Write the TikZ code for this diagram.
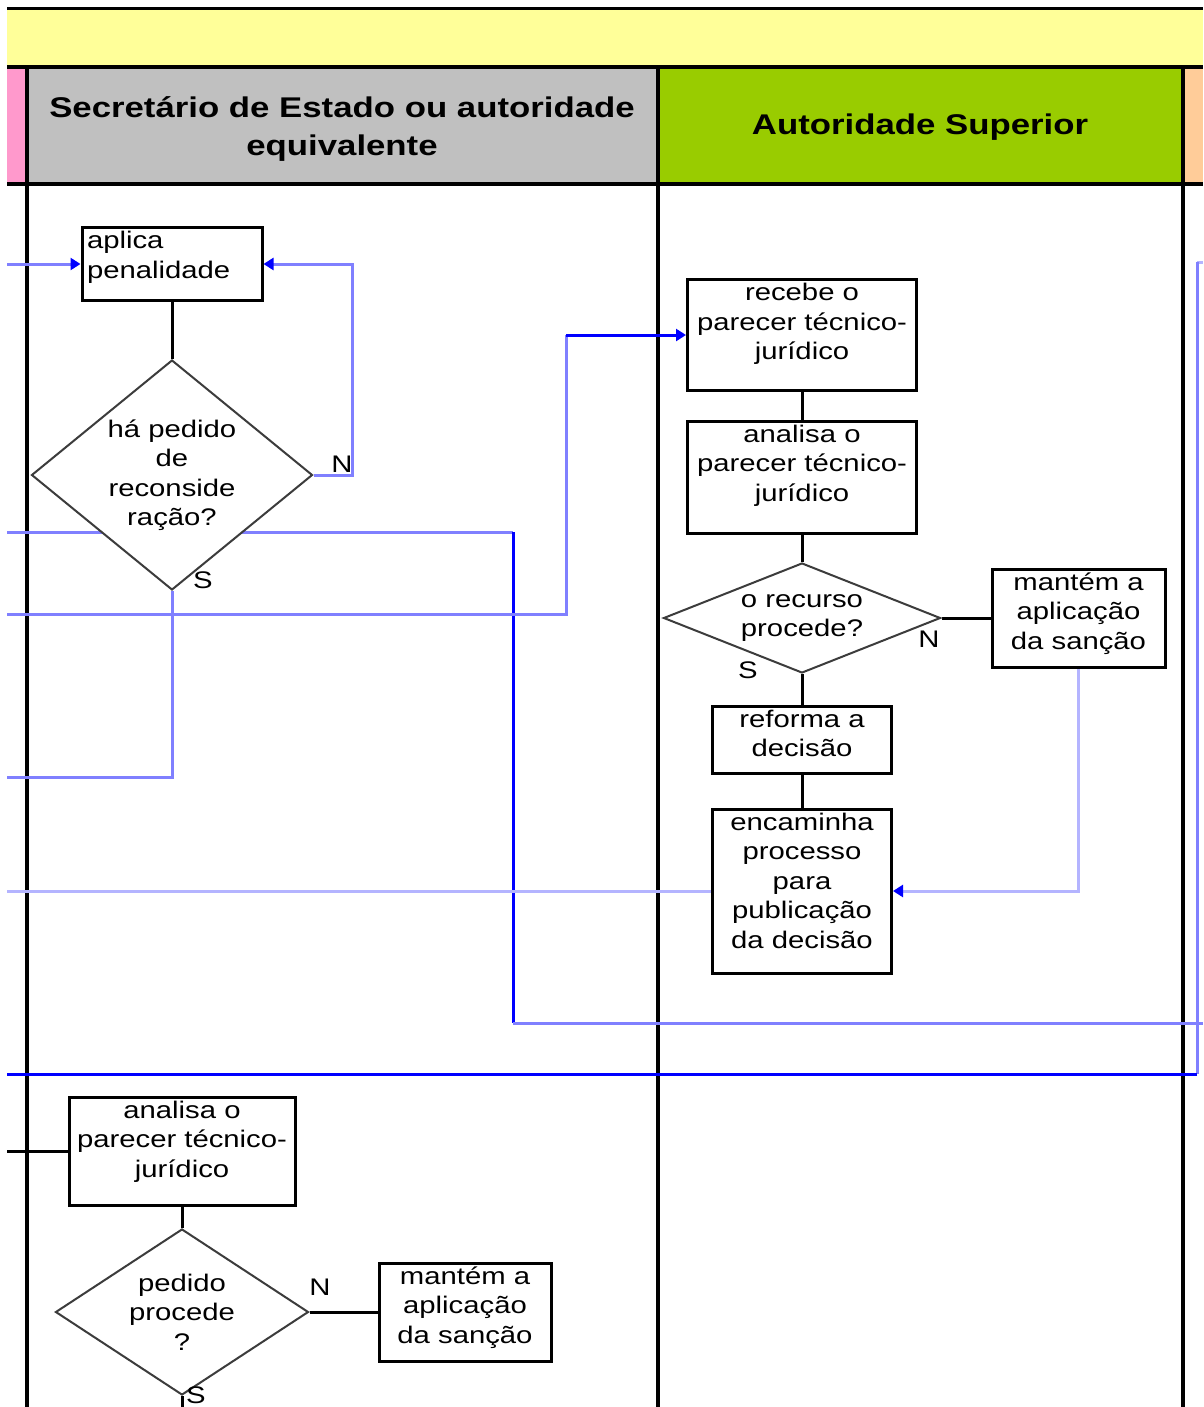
\documentclass[tikz,border=0pt]{standalone}
\usepackage{fontspec}
\setmainfont[FakeStretch=1.22]{Liberation Sans}
\usetikzlibrary{shapes.geometric,arrows.meta}
\pgfdeclarelayer{bg}
\pgfsetlayers{bg,main}
\definecolor{laneyellow}{HTML}{FFFF99}
\definecolor{lanegray}{HTML}{C0C0C0}
\definecolor{lanegreen}{HTML}{99CC00}
\definecolor{lanepink}{HTML}{FF99CC}
\definecolor{lanepeach}{HTML}{FFCC99}
\definecolor{flowblue}{HTML}{0000FF}
\definecolor{softblue}{HTML}{8080FF}
\definecolor{paleblue}{HTML}{B4B4FF}
\definecolor{edgegray}{HTML}{3C3C3C}

% fixed-size box text: width, height, alignment, lines
\newcommand\boxtxt[4]{\parbox[c][#2][t]{#1}{#3\rule{0pt}{21pt}#4}}

\begin{document}
\begin{tikzpicture}[x=1pt,y=-1pt,
  txt/.style={font=\fontsize{24}{29.5}\selectfont},
  procbox/.style={draw=black,line width=3pt,fill=white,inner sep=0pt,txt},
  decbox/.style={diamond,draw=edgegray,line width=2pt,fill=white,inner sep=0pt},
  declabel/.style={txt,align=center},
  flag/.style={txt,inner sep=0pt},
  link/.style={line width=3pt,black},
  soft/.style={line width=3pt,softblue},
  pale/.style={line width=3pt,paleblue},
  strong/.style={line width=3pt,flowblue},
  tip/.style={-{Triangle[length=10pt,width=12pt,color=flowblue]}},
  lane/.style={line width=3.2pt,black},
  head/.style={font=\bfseries\fontsize{28.5}{38}\selectfont,align=center}
]
\useasboundingbox (0,0) rectangle (1203,1407);

% lane titles
\node[head] (hsec) at (342,129) {Secretário de Estado ou autoridade\\equivalente};
\node[head] (hsup) at (920,127) {Autoridade Superior};

% Secretário de Estado: first part
\node[procbox] (pen) at (172,264) {\boxtxt{180pt}{73pt}{\raggedright\leftskip=5pt}{aplica\\penalidade}};
\node[decbox,minimum width=281pt,minimum height=230pt,
      label={[declabel]center:{há pedido\\de\\reconside\\ração?}}] (d1) at (172,475) {};
\node[flag] (n1) at (342,464) {N};
\node[flag] (s1) at (203,580) {S};

% Autoridade Superior
\node[procbox] (rec) at (802,335) {\boxtxt{229pt}{111pt}{\centering}{recebe o\\parecer técnico-\\jurídico}};
\node[procbox] (ana) at (802,477) {\boxtxt{229pt}{112pt}{\centering}{analisa o\\parecer técnico-\\jurídico}};
\node[decbox,minimum width=277pt,minimum height=110pt,
      label={[declabel]center:{o recurso\\procede?}}] (d2) at (802,618) {};
\node[flag] (n2) at (929,639) {N};
\node[flag] (s2) at (748,670) {S};
\node[procbox] (mant) at (1078.5,618) {\boxtxt{173pt}{98pt}{\centering}{mantém a\\aplicação\\da sanção}};
\node[procbox] (ref) at (802,739.5) {\boxtxt{179pt}{67pt}{\centering}{reforma a\\decisão}};
\node[procbox] (enc) at (802,891) {\boxtxt{179pt}{164pt}{\centering}{encaminha\\processo\\para\\publicação\\da decisão}};

% Secretário de Estado: second part
\node[procbox] (ana2) at (182,1151) {\boxtxt{226pt}{108pt}{\centering}{analisa o\\parecer técnico-\\jurídico}};
\node[decbox,minimum width=253pt,minimum height=166pt,
      label={[declabel]center:{pedido\\procede\\?}}] (d3) at (182,1312) {};
\node[flag] (n3) at (320,1287) {N};
\node[flag] (s3) at (196,1395) {S};
\node[procbox] (mant2) at (465,1312) {\boxtxt{172pt}{98pt}{\centering}{mantém a\\aplicação\\da sanção}};

% free ends of the flow lines
\coordinate (inPen) at (7,264);
\coordinate (in532) at (7,532);
\coordinate (out1023) at (1203,1023);
\coordinate (in614) at (7,614);
\coordinate (outRej) at (7,777);
\coordinate (outEnc) at (7,891);
\coordinate (topR) at (1197,262);
\coordinate (stubR) at (1203,262);
\coordinate (outBand) at (7,1074);
\coordinate (in1152) at (7,1151);
\coordinate (downS) at (182,1407);

\begin{pgfonlayer}{bg}
  % pool header and lanes
  \fill[laneyellow] (7,9) rectangle (1203,67);
  \fill[lanepink] (7,67) rectangle (27,184);
  \fill[lanegray] (27,67) rectangle (658,184);
  \fill[lanegreen] (658,67) rectangle (1183,184);
  \fill[lanepeach] (1183,67) rectangle (1203,184);
  \draw[lane] (7,8.5) -- (1203,8.5);
  \draw[lane] (7,67) -- (1203,67);
  \draw[lane] (7,184) -- (1203,184);
  \draw[lane] (27,67) -- (27,1407);
  \draw[lane] (658,67) -- (658,1407);
  \draw[lane] (1183,67) -- (1183,1407);

  % blue flow lines
  \draw[soft,tip] (inPen) -- (pen.west);
  \draw[soft,tip] (d1.east) -| (352,264) -- (pen.east);
  \draw[soft] (d1.south) |- (outRej);
  \draw[soft] (in532) -- (513,532);
  \draw[strong] (513,532) -- (513,1023);
  \draw[soft] (513,1023) -- (out1023);
  \draw[soft] (in614) -| (566,335);
  \draw[strong,tip] (566,335) -- (rec.west);
  \draw[pale,tip] (mant.south) |- (enc.east);
  \draw[pale] (enc.west) -- (outEnc);
  \draw[pale] (topR) -- (stubR);
  \draw[soft] (topR) -- (1197,1074);
  \draw[strong] (1197,1074) -- (outBand);

  % black sequence links
  \draw[link] (pen.south) -- (d1.north);
  \draw[link] (rec.south) -- (ana.north);
  \draw[link] (ana.south) -- (d2.north);
  \draw[link] (d2.east) -- (mant.west);
  \draw[link] (d2.south) -- (ref.north);
  \draw[link] (ref.south) -- (enc.north);
  \draw[link] (in1152) -- (ana2.west);
  \draw[link] (ana2.south) -- (d3.north);
  \draw[link] (d3.east) -- (mant2.west);
  \draw[link] (d3.south) -- (downS);
\end{pgfonlayer}
\end{tikzpicture}
\end{document}
